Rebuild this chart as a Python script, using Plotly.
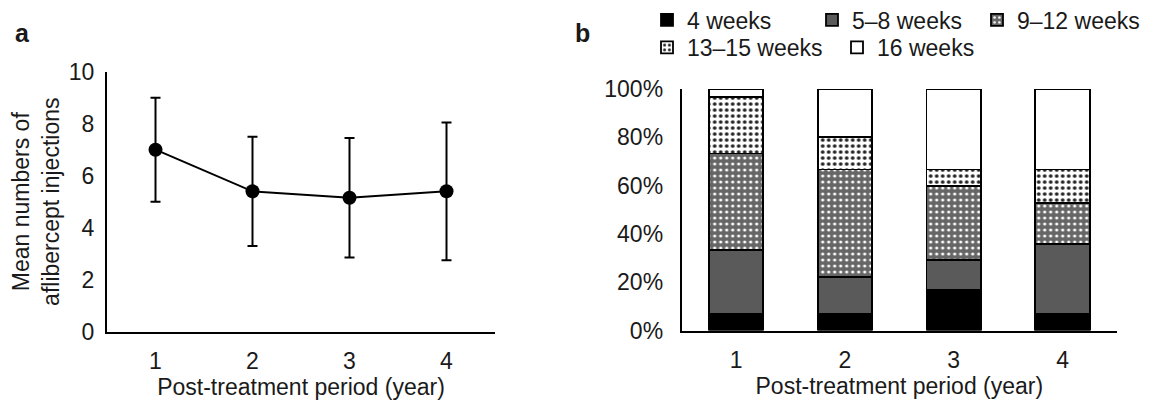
import plotly.graph_objects as go

# ---- data ----
years = ["1", "2", "3", "4"]
mean_injections = [7.0, 5.4, 5.15, 5.4]
sd_injections = [2.0, 2.1, 2.3, 2.65]

interval_names = ["4 weeks", "5–8 weeks", "9–12 weeks", "13–15 weeks", "16 weeks"]
pct_4wk = [6.7, 6.7, 16.7, 6.7]
pct_5_8wk = [26.6, 15.5, 12.5, 29.0]
pct_9_12wk = [40.0, 44.5, 30.8, 17.1]
pct_13_15wk = [23.4, 13.3, 6.7, 13.9]
pct_16wk = [3.3, 20.0, 33.3, 33.3]

# page has an 8px body margin; size the figure so it fills the window
OFF = 8
W, H = 1151 - OFF, 403 - OFF
FONT = "Liberation Sans, Arial, sans-serif"
TXT = "#1a1a1a"
FS = 23


def px(x):
    return (x - OFF) / W


def py(y):
    return 1 - (y - OFF) / H


fig = go.Figure()

# ---- panel a ----
fig.add_trace(go.Scatter(
    x=years, y=mean_injections, mode="lines+markers",
    line=dict(color="black", width=2),
    marker=dict(color="black", size=14),
    error_y=dict(type="data", array=sd_injections, visible=True,
                 color="black", thickness=2, width=5),
    showlegend=False, xaxis="x", yaxis="y"))

# ---- panel b ----
styles = [
    dict(color="black"),
    dict(color="#5a5a5a"),
    dict(color="#666666", pattern=dict(shape=".", bgcolor="#666666", fgcolor="white",
                                        size=6, solidity=0.22, fillmode="replace")),
    dict(color="white", pattern=dict(shape=".", bgcolor="white", fgcolor="#222",
                                      size=6, solidity=0.3, fillmode="replace")),
    dict(color="white"),
]
series = [pct_4wk, pct_5_8wk, pct_9_12wk, pct_13_15wk, pct_16wk]
legends = ["legend", "legend", "legend", "legend2", "legend2"]
for name, vals, st, lg in zip(interval_names, series, styles, legends):
    fig.add_trace(go.Bar(
        x=years, y=vals, name=name, width=0.5,
        marker=dict(line=dict(color="black", width=1.8), **st),
        xaxis="x2", yaxis="y2", legend=lg))

axis_common = dict(showline=True, linecolor="black", linewidth=2, ticks="",
                   showgrid=False, zeroline=False,
                   tickfont=dict(family=FONT, size=FS, color=TXT),
                   title_font=dict(family=FONT, size=FS, color=TXT))

fig.update_layout(
    width=W, height=H,
    margin=dict(l=0, r=0, t=0, b=0, autoexpand=False),
    plot_bgcolor="white", paper_bgcolor="white",
    barmode="stack",
    font=dict(family=FONT, size=FS, color=TXT),
    xaxis=dict(domain=[px(107), px(495)], anchor="y", range=[-0.5, 3.5],
               type="category", ticklabelstandoff=8,
               title=dict(text="Post-treatment period (year)", standoff=0),
               **axis_common),
    yaxis=dict(domain=[py(331.7), py(71.7)], anchor="x",
               range=[0, 10], dtick=2, ticklabelstandoff=6,
               title=dict(text="Mean numbers of<br>aflibercept injections", standoff=12),
               **axis_common),
    xaxis2=dict(domain=[px(681.7), px(1117)], anchor="y2", range=[-0.5, 3.5],
                type="category", ticklabelstandoff=8,
                title=dict(text="Post-treatment period (year)", standoff=0),
                **axis_common),
    yaxis2=dict(domain=[py(330.5), py(89)], anchor="x2",
                range=[0, 100], dtick=20, ticksuffix="%", ticklabelstandoff=12,
                **axis_common),
    legend=dict(orientation="h", x=px(647), xanchor="left", y=py(20), yanchor="middle",
                font=dict(family=FONT, size=FS, color=TXT), entrywidth=120,
                itemwidth=30, bgcolor="rgba(0,0,0,0)", traceorder="normal"),
    legend2=dict(orientation="h", x=px(647), xanchor="left", y=py(47.5), yanchor="middle",
                 font=dict(family=FONT, size=FS, color=TXT), entrywidth=145,
                 itemwidth=30, bgcolor="rgba(0,0,0,0)", traceorder="normal"),
    annotations=[
        dict(text="<b>a</b>", x=px(22.5), y=py(32.5), xref="paper", yref="paper",
             xanchor="center", yanchor="middle",
             showarrow=False, font=dict(family=FONT, size=25, color=TXT)),
        dict(text="<b>b</b>", x=px(582.5), y=py(32.5), xref="paper", yref="paper",
             xanchor="center", yanchor="middle",
             showarrow=False, font=dict(family=FONT, size=25, color=TXT)),
    ],
)

fig.write_html("out.html")
